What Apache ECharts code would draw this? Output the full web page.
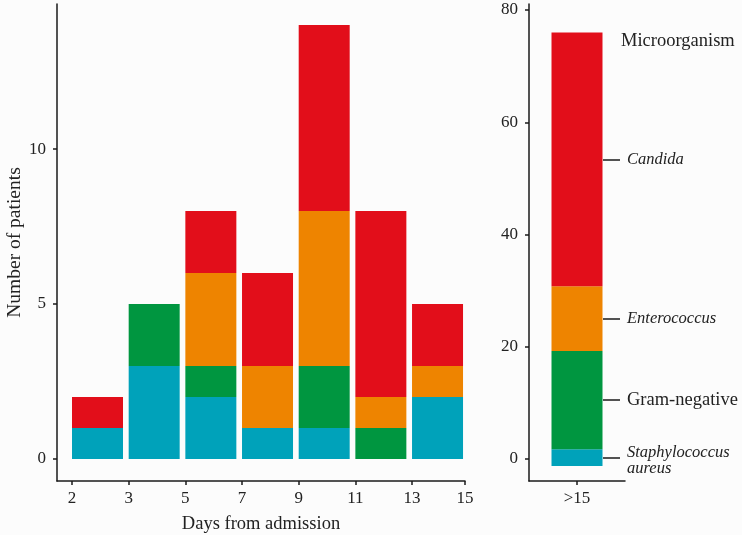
<!DOCTYPE html>
<html><head><meta charset="utf-8">
<script src="https://cdn.jsdelivr.net/npm/echarts@6/dist/echarts.min.js"></script>
<style>html,body{margin:0;padding:0;background:#fcfcfc}#c{width:742px;height:535px}</style>
</head><body><div id="c"></div>
<script>
// ---- data ----
const bins = ['2-3','3-5','5-7','7-9','9-11','11-13','13-15'];
const binLabels = ['2','3','5','7','9','11','13','15'];
const blueVals   = [1,3,2,1,1,0,2];   // Staphylococcus aureus
const greenVals  = [0,2,1,0,2,1,0];   // Gram-negative
const orangeVals = [0,0,3,2,5,1,1];   // Enterococcus
const redVals    = [1,0,2,3,6,6,2];   // Candida
const rightCategory = '>15';
const rightBase = -1.25;
const rightVals = [3, 17.5, 11.55, 45.2]; // blue, green, orange, red
const organisms = ['Staphylococcus aureus','Gram-negative','Enterococcus','Candida'];
const italicNames = [true,false,true,true];
const leftTicks = [0,5,10];
const rightTicks = [0,20,40,60,80];

// ---- style ----
const colors = ['#00A2BA','#009640','#EE8400','#E20E1A'];
const FONT = "'Liberation Serif','DejaVu Serif',serif";
const ink = '#1a1a1a';
const xMax = 6.935;
const edgePos = binLabels.map((_, i) => i < binLabels.length - 1 ? i : xMax);
const nearest = (arr, v) => { let b = 0; arr.forEach((a, i) => { if (Math.abs(a - v) < Math.abs(arr[b] - v)) b = i; }); return b; };

const leftSeries = [blueVals, greenVals, orangeVals, redVals];
const mids = [];
let acc = rightBase;
rightVals.forEach(v => { mids.push(acc + v / 2); acc += v; });

const axisLine = {show: true, onZero: false, lineStyle: {color: ink, width: 1.5}};
const tickStyle = {color: ink, width: 1.5};
const labelStyle = {color: '#222', fontFamily: FONT, fontSize: 17};
const LMIN = -0.71, LMAX = 14.68, RMIN = -3.92, RMAX = 81.07;

const chart = echarts.init(document.getElementById('c'));
const option = {
  backgroundColor: '#fcfcfc',
  animation: false,
  title: {text: 'Microorganism', left: 616, top: 27,
    textStyle: {fontFamily: FONT, fontSize: 18.5, fontWeight: 'normal', color: '#222'}},
  grid: [
    {left: 57, top: 4, width: 408, height: 477, outerBoundsMode: 'none'},      // left axes
    {left: 69.17, top: 4, width: 396.7, height: 477, outerBoundsMode: 'none'}, // left bars
    {left: 529, top: 4, width: 96, height: 477, outerBoundsMode: 'none'}       // right panel
  ],
  xAxis: [
    {gridIndex: 0, type: 'value', min: -0.265, max: xMax,
      axisLine, splitLine: {show: false},
      axisTick: {show: true, customValues: edgePos, length: 4, lineStyle: tickStyle},
      axisLabel: Object.assign({customValues: edgePos, margin: 9,
        formatter: v => binLabels[nearest(edgePos, v)]}, labelStyle),
      name: 'Days from admission', nameLocation: 'middle', nameGap: 34,
      nameTextStyle: {fontFamily: FONT, fontSize: 18.5, color: '#222'}},
    {gridIndex: 1, type: 'category', data: bins, show: false},
    {gridIndex: 2, type: 'category', data: [rightCategory],
      axisLine, splitLine: {show: false},
      axisTick: {show: true, alignWithLabel: true, length: 4, lineStyle: tickStyle},
      axisLabel: Object.assign({margin: 9}, labelStyle)}
  ],
  yAxis: [
    {gridIndex: 0, type: 'value', min: LMIN, max: LMAX,
      axisLine, splitLine: {show: false},
      axisTick: {show: true, customValues: leftTicks, length: 4, lineStyle: tickStyle},
      axisLabel: Object.assign({customValues: leftTicks, margin: 11}, labelStyle),
      name: 'Number of patients', nameLocation: 'middle', nameGap: 32, nameMoveOverlap: false,
      nameTextStyle: {fontFamily: FONT, fontSize: 19.5, color: '#222'}},
    {gridIndex: 1, type: 'value', min: LMIN, max: LMAX, show: false},
    {gridIndex: 2, type: 'value', min: RMIN, max: RMAX,
      axisLine, splitLine: {show: false},
      axisTick: {show: true, customValues: rightTicks, length: 4, lineStyle: tickStyle},
      axisLabel: Object.assign({customValues: rightTicks, margin: 11}, labelStyle)},
    {gridIndex: 2, type: 'value', min: RMIN, max: RMAX, position: 'right', offset: -22,
      axisLine: {show: false}, splitLine: {show: false},
      axisTick: {show: true, customValues: mids, length: 17, lineStyle: tickStyle},
      axisLabel: {customValues: mids, margin: 24, color: '#222',
        formatter: v => {
          const i = nearest(mids, v);
          if (italicNames[i]) {
            const w = organisms[i].split(' ');
            return w.length > 1 ? w.map(s => '{i2|' + s + '}').join('\n') : '{i|' + w[0] + '}';
          }
          return '{n|' + organisms[i] + '}';
        },
        rich: {
          i: {fontFamily: FONT, fontStyle: 'italic', fontSize: 16.5, color: '#222', lineHeight: 18},
          i2: {fontFamily: FONT, fontStyle: 'italic', fontSize: 16.5, color: '#222', lineHeight: 16, padding: [6, 0, 0, 0]},
          n: {fontFamily: FONT, fontSize: 18.5, color: '#222', lineHeight: 18}
        }}}
  ],
  series: [
    ...leftSeries.map((vals, k) => ({
      type: 'bar', xAxisIndex: 1, yAxisIndex: 1, stack: 'L', barWidth: 51,
      itemStyle: {color: colors[k]},
      data: vals
    })),
    {type: 'bar', xAxisIndex: 2, yAxisIndex: 2, stack: 'R', stackStrategy: 'all', barWidth: 51,
      itemStyle: {color: 'rgba(0,0,0,0)'}, silent: true, data: [rightBase]},
    ...rightVals.map((v, k) => ({
      type: 'bar', xAxisIndex: 2, yAxisIndex: 2, stack: 'R', stackStrategy: 'all', barWidth: 51,
      itemStyle: {color: colors[k]},
      data: [v]
    }))
  ]
};
chart.setOption(option);
</script>
</body></html>
